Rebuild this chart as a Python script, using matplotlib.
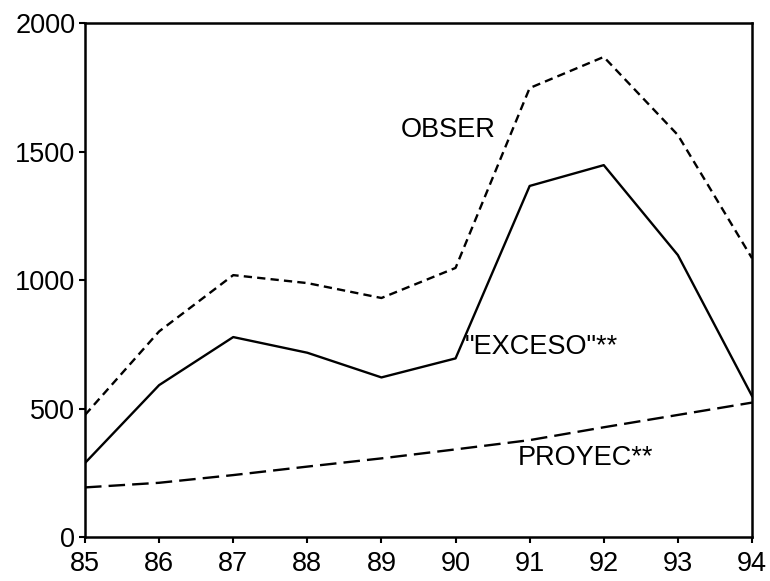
import matplotlib.pyplot as plt

plt.rcParams['font.family'] = ['Liberation Sans', 'DejaVu Sans']

# data
years = [85, 86, 87, 88, 89, 90, 91, 92, 93, 94]
obser = [475, 800, 1019, 988, 930, 1047, 1747, 1868, 1564, 1085]
exceso = [288, 591, 778, 717, 621, 695, 1366, 1447, 1097, 549]
proyec = [193, 211, 241, 274, 306, 341, 377, 427, 475, 523]

fig = plt.figure(figsize=(7.7, 5.81), dpi=100)
ax = fig.add_axes([0.1104, 0.0757, 0.8662, 0.8847])

ax.plot(years, obser, color='black', lw=1.7, dashes=(3.5, 2.2))
ax.plot(years, exceso, color='black', lw=1.7)
ax.plot(years, proyec, color='black', lw=1.7, dashes=(7, 3))

ax.text(89.9, 1584, 'OBSER', fontsize=19.5, ha='center', va='center')
ax.text(91.16, 740, '"EXCESO"**', fontsize=19.5, ha='center', va='center')
ax.text(91.76, 307, 'PROYEC**', fontsize=19.5, ha='center', va='center')

ax.set_xlim(85, 94)
ax.set_ylim(0, 2000)
ax.set_xticks(years)
ax.set_xticklabels([str(y) for y in years])
ax.set_yticks([0, 500, 1000, 1500, 2000])
ax.tick_params(axis='both', direction='out', length=4, width=1.5, labelsize=19.5)
ax.tick_params(axis='x', pad=6)
ax.tick_params(axis='y', pad=3)
for s in ax.spines.values():
    s.set_linewidth(1.8)

fig.savefig('out.png', dpi=100)
